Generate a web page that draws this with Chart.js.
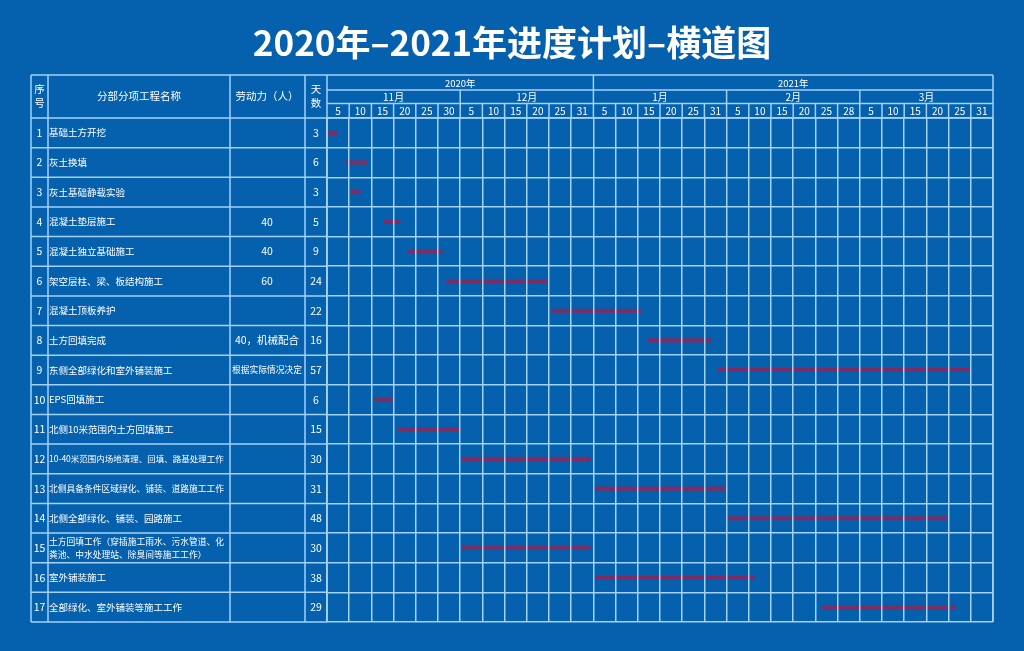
<!DOCTYPE html>
<html>
<head>
<meta charset="utf-8">
<script src="https://cdn.jsdelivr.net/npm/chart.js@4"></script>
<style>
  html, body { margin: 0; padding: 0; background: #0560ad; }
  #wrap { width: 1024px; height: 651px; }
</style>
</head>
<body>
<div id="wrap"><canvas id="myChart" width="1024" height="651"></canvas></div>
<script>
// table rows
var taskNames = [
  '基础土方开挖', '灰土换填', '灰土基础静载实验', '混凝土垫层施工', '混凝土独立基础施工',
  '架空层柱、梁、板结构施工', '混凝土顶板养护', '土方回填完成', '东侧全部绿化和室外铺装施工',
  'EPS回填施工', '北侧10米范围内土方回填施工', '10-40米范围内场地清理、回填、路基处理工作',
  '北侧具备条件区域绿化、铺装、道路施工工作', '北侧全部绿化、铺装、园路施工',
  '土方回填工作（穿插施工雨水、污水管道、化|粪池、中水处理站、除臭间等施工工作）',
  '室外铺装施工', '全部绿化、室外铺装等施工工作'
];
var labour = ['', '', '', '40', '40', '60', '', '40，机械配合', '根据实际情况决定', '', '', '', '', '', '', '', ''];
var days = [3, 6, 3, 5, 9, 24, 22, 16, 57, 6, 15, 30, 31, 48, 30, 38, 29];

// time header (one column = one 5-day slot)
var years = ['2020年', '2021年'];
var yearCols = [12, 18];
var months = ['11月', '12月', '1月', '2月', '3月'];
var dayTicks = ['5','10','15','20','25','30', '5','10','15','20','25','31', '5','10','15','20','25','31',
                '5','10','15','20','25','28', '5','10','15','20','25','31'];

// bars, in column units
var barStart = [0.06, 0.84, 1.07, 2.57, 3.66, 5.39, 10.15, 14.47, 17.63, 2.09, 3.21, 6.09, 12.07, 18.08, 6.09, 12.07, 22.31];
var barEnd   = [0.46, 1.79, 1.49, 3.29, 5.19, 9.97, 14.14, 17.28, 28.96, 2.96, 5.95, 11.85, 17.96, 27.91, 11.85, 19.25, 28.32];

var LINE = '#a3d2fa';
var TXT = '#ffffff';
var FONT = '"Noto Sans CJK SC", "Noto Sans", sans-serif';

var bars = [];
for (var i = 0; i < barStart.length; i++) {
  bars.push([barStart[i], barEnd[i]]);
}

// shrink text so it fits in a cell
function fitText(ctx, txt, size, maxW) {
  ctx.font = size + 'px ' + FONT;
  while (ctx.measureText(txt).width > maxW && size > 6) {
    size -= 0.25;
    ctx.font = size + 'px ' + FONT;
  }
}

var tablePlugin = {
  id: 'tablePlugin',
  afterDraw: function(chart) {
    var ctx = chart.ctx;
    var area = chart.chartArea;
    var xs = chart.scales.x;
    var ys = chart.scales.y;
    var top = 75, yRow = 90, mRow = 103.5;
    var colX = [31, 48, 230, 305, area.left];
    var rowH = (area.bottom - area.top) / taskNames.length;

    ctx.save();
    // title
    ctx.fillStyle = TXT;
    ctx.textAlign = 'center';
    ctx.textBaseline = 'middle';
    ctx.font = 'bold 35px ' + FONT;
    ctx.fillText('2020年–2021年进度计划–横道图', 512, 43);

    ctx.strokeStyle = LINE;
    ctx.lineWidth = 1.5;
    function line(x1, y1, x2, y2) {
      ctx.beginPath(); ctx.moveTo(x1, y1); ctx.lineTo(x2, y2); ctx.stroke();
    }
    // left table frame
    for (var c = 0; c < colX.length; c++) line(colX[c], top, colX[c], area.bottom);
    line(colX[0], top, area.right, top);
    line(colX[0], area.top, area.right, area.top);
    for (var r = 1; r <= taskNames.length; r++) {
      var yy = area.top + r * rowH;
      line(colX[0], yy, area.left, yy);
    }
    // time header lines
    line(area.left, yRow, area.right, yRow);
    line(area.left, mRow, area.right, mRow);
    line(area.right, top, area.right, area.bottom);
    line(xs.getPixelForValue(12), top, xs.getPixelForValue(12), yRow);
    for (var m = 1; m < 5; m++) {
      var mx = xs.getPixelForValue(m * 6);
      line(mx, yRow, mx, mRow);
    }
    for (var d = 1; d < 30; d++) {
      var dx = xs.getPixelForValue(d);
      line(dx, mRow, dx, area.top);
    }

    // header texts
    ctx.fillStyle = TXT;
    ctx.font = '10.5px ' + FONT;
    ctx.fillText('序', 39.5, 89);
    ctx.fillText('号', 39.5, 103);
    ctx.fillText('天', 316, 89);
    ctx.fillText('数', 316, 103);
    ctx.fillText('分部分项工程名称', 139, 96);
    ctx.fillText('劳动力（人）', 267, 96);
    ctx.font = '9.5px ' + FONT;
    var c0 = 0;
    for (var yI = 0; yI < years.length; yI++) {
      ctx.fillText(years[yI], xs.getPixelForValue(c0 + yearCols[yI] / 2), (top + yRow) / 2 + 0.5);
      c0 += yearCols[yI];
    }
    ctx.font = '10px ' + FONT;
    for (var mI = 0; mI < months.length; mI++) {
      ctx.fillText(months[mI], xs.getPixelForValue(mI * 6 + 3), (yRow + mRow) / 2 + 0.5);
    }
    for (var t = 0; t < dayTicks.length; t++) {
      ctx.fillText(dayTicks[t], xs.getPixelForValue(t + 0.5), (mRow + area.top) / 2 + 0.5);
    }

    // rows
    for (var k = 0; k < taskNames.length; k++) {
      var cy = ys.getPixelForValue(k);
      ctx.textAlign = 'center';
      ctx.font = '10.5px ' + FONT;
      ctx.fillText(String(k + 1), 39.5, cy);
      ctx.fillText(String(days[k]), 316, cy);
      if (labour[k]) {
        fitText(ctx, labour[k], 10.5, 70);
        ctx.fillText(labour[k], 267, cy);
      }
      ctx.textAlign = 'left';
      var parts = taskNames[k].split('|');
      if (parts.length == 1) {
        fitText(ctx, parts[0], 9.5, 179);
        ctx.fillText(parts[0], 49, cy);
      } else {
        fitText(ctx, parts[0], 9.5, 179);
        ctx.fillText(parts[0], 49, cy - 6.5);
        ctx.fillText(parts[1], 49, cy + 6.5);
      }
    }
    ctx.restore();
  }
};

var ctx = document.getElementById('myChart').getContext('2d');
var myChart = new Chart(ctx, {
  type: 'bar',
  data: {
    labels: taskNames,
    datasets: [{
      label: '进度',
      data: bars,
      backgroundColor: '#7e2d63',
      borderWidth: 0,
      borderSkipped: false,
      barThickness: 3.5
    }]
  },
  options: {
    indexAxis: 'y',
    responsive: false,
    devicePixelRatio: 1,
    animation: false,
    layout: { padding: { left: 327, top: 118, right: 31, bottom: 29 } },
    plugins: { legend: { display: false }, tooltip: { enabled: false } },
    scales: {
      x: {
        type: 'linear', position: 'top', min: 0, max: 30,
        ticks: { display: false, stepSize: 1 },
        grid: { color: LINE, lineWidth: 1.5, drawTicks: false, z: 1 },
        border: { display: false }
      },
      y: {
        ticks: { display: false },
        grid: { color: LINE, lineWidth: 1.5, drawTicks: false, offset: true },
        border: { display: true, color: LINE, width: 1.5 }
      }
    }
  },
  plugins: [tablePlugin]
});
</script>
</body>
</html>
